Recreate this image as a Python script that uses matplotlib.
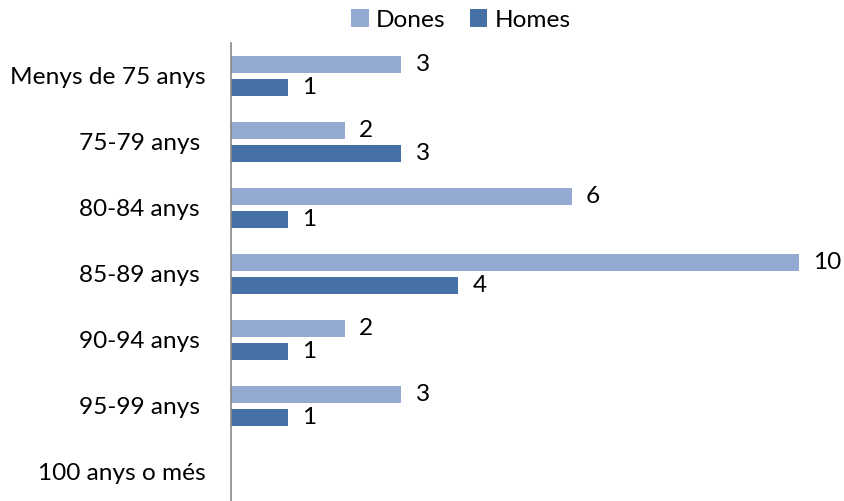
import matplotlib.pyplot as plt
import numpy as np

plt.rcParams['font.family'] = ['Lato', 'DejaVu Sans']
plt.rcParams['font.size'] = 17.6

categories = ["Menys de 75 anys", "75-79 anys ", "80-84 anys ", "85-89 anys ",
              "90-94 anys ", "95-99 anys ", "100 anys o més"]
dones = [3, 2, 6, 10, 2, 3, None]
homes = [1, 3, 1, 4, 1, 1, None]

c_dones = "#95AAD3"
c_homes = "#4571A5"

fig = plt.figure(figsize=(8.44, 5.01), dpi=100)
ax = fig.add_axes([231/844, -4/501, (799-231)/844, (505-43)/501])

y = np.arange(len(categories))
off = 0.174
h = 0.26
dv = [v if v is not None else 0 for v in dones]
hv = [v if v is not None else 0 for v in homes]
ax.barh(y - off, dv, height=h, color=c_dones, label="Dones")
ax.barh(y + off, hv, height=h, color=c_homes, label="Homes")

for i in range(len(categories)):
    if dones[i] is not None:
        ax.text(dones[i] + 0.25, y[i] - off, str(dones[i]), va='center', ha='left', clip_on=False)
    if homes[i] is not None:
        ax.text(homes[i] + 0.25, y[i] + off, str(homes[i]), va='center', ha='left', clip_on=False)

ax.set_xlim(0, 10)
ax.set_ylim(len(categories) - 0.5, -0.5)
ax.set_yticks(y)
ax.set_yticklabels(categories)
ax.tick_params(axis='y', length=0, pad=18)
ax.set_xticks([])
for s in ['top', 'right', 'bottom']:
    ax.spines[s].set_visible(False)
ax.spines['left'].set_color('#888888')
ax.spines['left'].set_linewidth(1.2)

fig.legend(loc='center', bbox_to_anchor=(461/844, 1 - 20/501), ncol=2, frameon=False,
           handlelength=0.7, handleheight=0.7, handletextpad=0.3, columnspacing=1.0)

fig.savefig("out.png", dpi=100)
